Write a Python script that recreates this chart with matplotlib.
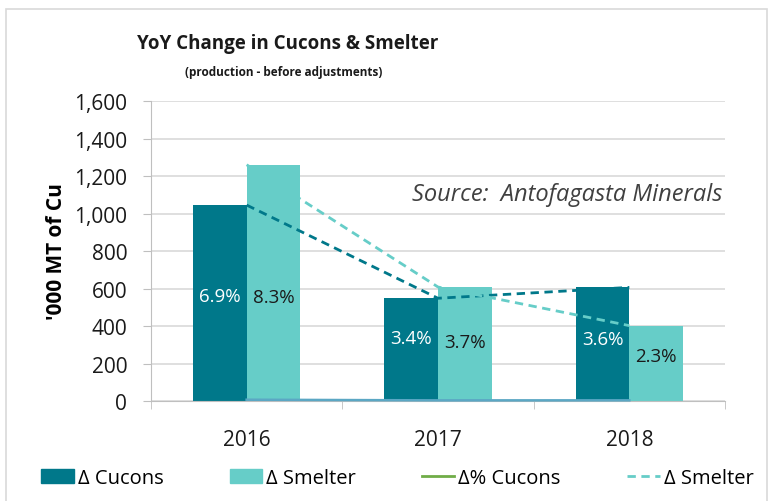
import numpy as np
import matplotlib.pyplot as plt
from matplotlib.patches import Patch, Rectangle
from matplotlib.lines import Line2D
from matplotlib.ticker import FuncFormatter

plt.rcParams['font.family'] = ['Open Sans', 'DejaVu Sans']

# data
years = ['2016', '2017', '2018']
cucons = [1045, 548, 606]
smelter = [1260, 608, 402]
pct_cucons = [6.9, 3.4, 3.6]
pct_smelter = [8.3, 3.7, 2.3]
# heights (in data units) where the % labels sit
lbl_y_cucons = [560, 336, 331]
lbl_y_smelter = [555, 315, 240]

dark = '#00788A'
light = '#66CDC8'
green = '#70AD47'

fig = plt.figure(figsize=(7.73, 5.02), dpi=100)
ax = fig.add_axes([0.1953, 0.1992, 0.7426, 0.5976])

x = np.arange(len(years))
w = 0.28
ax.bar(x - w / 2, cucons, w, color=dark, zorder=2)
ax.bar(x + w / 2, smelter, w, color=light, zorder=2)

# trend lines through the group centres
ax.plot(x, cucons, ls=(0, (3, 2)), color=dark, lw=2, zorder=3)
ax.plot(x, smelter, ls=(0, (3, 2)), color=light, lw=2, zorder=3)
# percent series on the value axis (hugs the baseline)
ax.plot(x, pct_cucons, color='#5BA7C4', lw=1.8, zorder=3, clip_on=False)

for i in range(len(years)):
    ax.text(x[i] - w / 2, lbl_y_cucons[i], f'{pct_cucons[i]}%', color='white',
            ha='center', va='center', fontsize=13.5, zorder=4)
    ax.text(x[i] + w / 2, lbl_y_smelter[i], f'{pct_smelter[i]}%', color='#1a1a1a',
            ha='center', va='center', fontsize=13.5, zorder=4)

ax.set_xlim(-0.5, 2.5)
ax.set_ylim(0, 1600)
ax.set_yticks(np.arange(0, 1601, 200))
ax.yaxis.set_major_formatter(FuncFormatter(lambda v, p: f'{int(v):,}'))
ax.yaxis.grid(True, color='#D9D9D9', lw=1.2, zorder=0)
ax.set_axisbelow(True)

ax.set_xticks(x)
ax.set_xticklabels(years)
ax.set_xticks([-0.5, 0.5, 1.5, 2.5], minor=True)
ax.tick_params(axis='x', which='major', length=0, pad=20, labelsize=15, colors='#1a1a1a')
ax.tick_params(axis='x', which='minor', length=6, color='#BFBFBF', direction='out')
ax.tick_params(axis='y', length=6, color='#BFBFBF', pad=11, labelsize=15, labelcolor='#1a1a1a')

for s in ['top', 'right']:
    ax.spines[s].set_visible(False)
ax.spines['left'].set_color('#BFBFBF')
ax.spines['bottom'].set_color('#BFBFBF')

ax.set_ylabel("'000 MT of Cu", fontsize=15, fontweight='bold', labelpad=5)

ax.text(0.995, 0.69, 'Source:  Antofagasta Minerals', transform=ax.transAxes,
        ha='right', va='center', fontsize=17, style='italic', color='#404040')

fig.text(0.372, 0.912, 'YoY Change in Cucons & Smelter', ha='center', va='center',
         fontsize=13.5, fontweight='bold', color='#1a1a1a')
fig.text(0.367, 0.855, '(production - before adjustments)', ha='center', va='center',
         fontsize=8.5, fontweight='bold', color='#1a1a1a')

handles = [Patch(color=dark, label='Δ Cucons'),
           Patch(color=light, label='Δ Smelter'),
           Line2D([], [], color=green, lw=2, label='Δ% Cucons'),
           Line2D([], [], color=light, lw=2, ls=(0, (3, 2)), label='Δ Smelter')]
fig.legend(handles=handles, loc='center', bbox_to_anchor=(0.514, 0.045), ncol=4,
           frameon=False, fontsize=14.5, handlelength=1.6, handletextpad=0.2,
           columnspacing=3.3)

fig.patches.append(Rectangle((0.008, -0.01), 0.984, 0.99, transform=fig.transFigure,
                             fill=False, edgecolor='#D9D9D9', lw=1.2))

fig.savefig('out.png', dpi=100)
